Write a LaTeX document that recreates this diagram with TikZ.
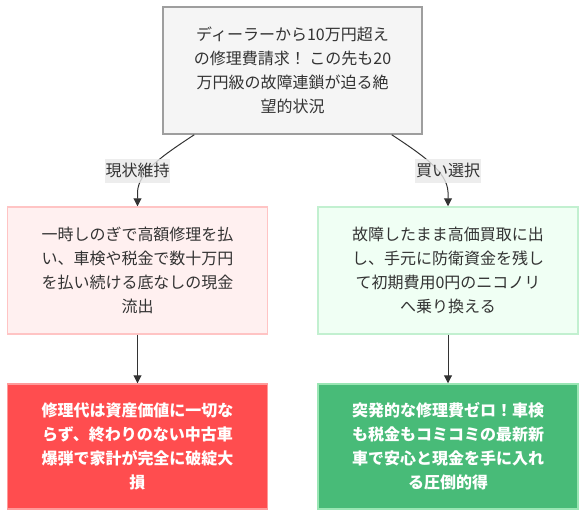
\documentclass[tikz,border=0pt]{standalone}
\usepackage{fontspec}
\setmainfont{Noto Sans CJK JP}
\usetikzlibrary{arrows.meta,calc}
\definecolor{txt}{HTML}{333333}
\definecolor{topfill}{HTML}{F5F5F5}
\definecolor{topdraw}{HTML}{9E9E9E}
\definecolor{pinkfill}{HTML}{FFF0F0}
\definecolor{pinkdraw}{HTML}{FFC4C4}
\definecolor{mintfill}{HTML}{F0FFF4}
\definecolor{mintdraw}{HTML}{C2F0D0}
\definecolor{redfill}{HTML}{FF4D4F}
\definecolor{reddraw}{HTML}{FF9A9A}
\definecolor{greenfill}{HTML}{48BB78}
\definecolor{greendraw}{HTML}{9AE6B4}
\definecolor{lblfill}{HTML}{E8E8E8}
\definecolor{linec}{HTML}{333333}
\begin{document}
\begin{tikzpicture}[x=0.75pt,y=-0.75pt,
  box/.style={rectangle, align=center, line width=1.1pt, inner sep=0pt,
    font=\fontsize{12pt}{18pt}\selectfont, text=txt},
  topbox/.style={box, fill=topfill, draw=topdraw, minimum width=194.25pt, minimum height=95.25pt},
  midL/.style={box, fill=pinkfill, draw=pinkdraw, minimum width=195pt, minimum height=95.25pt},
  midR/.style={box, fill=mintfill, draw=mintdraw, minimum width=195pt, minimum height=95.25pt},
  botL/.style={box, fill=redfill, draw=reddraw, text=white, minimum width=195pt, minimum height=93.75pt, font=\fontsize{12pt}{18pt}\selectfont\bfseries},
  botR/.style={box, fill=greenfill, draw=greendraw, text=white, minimum width=195pt, minimum height=93.75pt, font=\fontsize{12pt}{18pt}\selectfont\bfseries},
  lbl/.style={rectangle, fill=lblfill, fill opacity=0.8, text opacity=1, text=txt, inner xsep=0.5pt, inner ysep=0pt, minimum height=18pt, font=\fontsize{12pt}{18pt}\selectfont},
  edge/.style={draw=linec, line width=0.75pt, -{Triangle[length=6pt,width=6pt]}}
]
\useasboundingbox (0,0) rectangle (586,518);

\node[topbox] (top) at (292.5,70.5) {ディーラーから10万円超え\\の修理費請求！ この先も20\\万円級の故障連鎖が迫る絶\\望的状況};
\node[midL] (ml) at (137.5,270.5) {一時しのぎで高額修理を払\\い、車検や税金で数十万円\\を払い続ける底なしの現金\\流出};
\node[midR] (mr) at (448,270.5) {故障したまま高価買取に出\\し、手元に防衛資金を残し\\て初期費用0円のニコノリ\\へ乗り換える};
\node[botL] (bl) at (137.5,446.5) {修理代は資産価値に一切な\\らず、終わりのない中古車\\爆弾で家計が完全に破綻大\\損};
\node[botR] (br) at (448,446.5) {突発的な修理費ゼロ！車検\\も税金もコミコミの最新新\\車で安心と現金を手に入れ\\る圧倒的得};

\coordinate (sL) at ($(top.south west)+(32,0)$);
\coordinate (sR) at ($(top.south east)+(-31,0)$);

\draw[edge] (sL) .. controls (162,156) and (138.5,172) .. (137.5,192) -- (ml.north);
\draw[edge] (sR) .. controls (424,156) and (447,172) .. (448,192) -- (mr.north);
\draw[edge] (ml.south) -- (bl.north);
\draw[edge] (mr.south) -- (br.north);

\node[lbl] (l1) at (137.5,170.5) {現状維持};
\node[lbl] (l2) at (448,170.5) {買い選択};
\end{tikzpicture}
\end{document}
